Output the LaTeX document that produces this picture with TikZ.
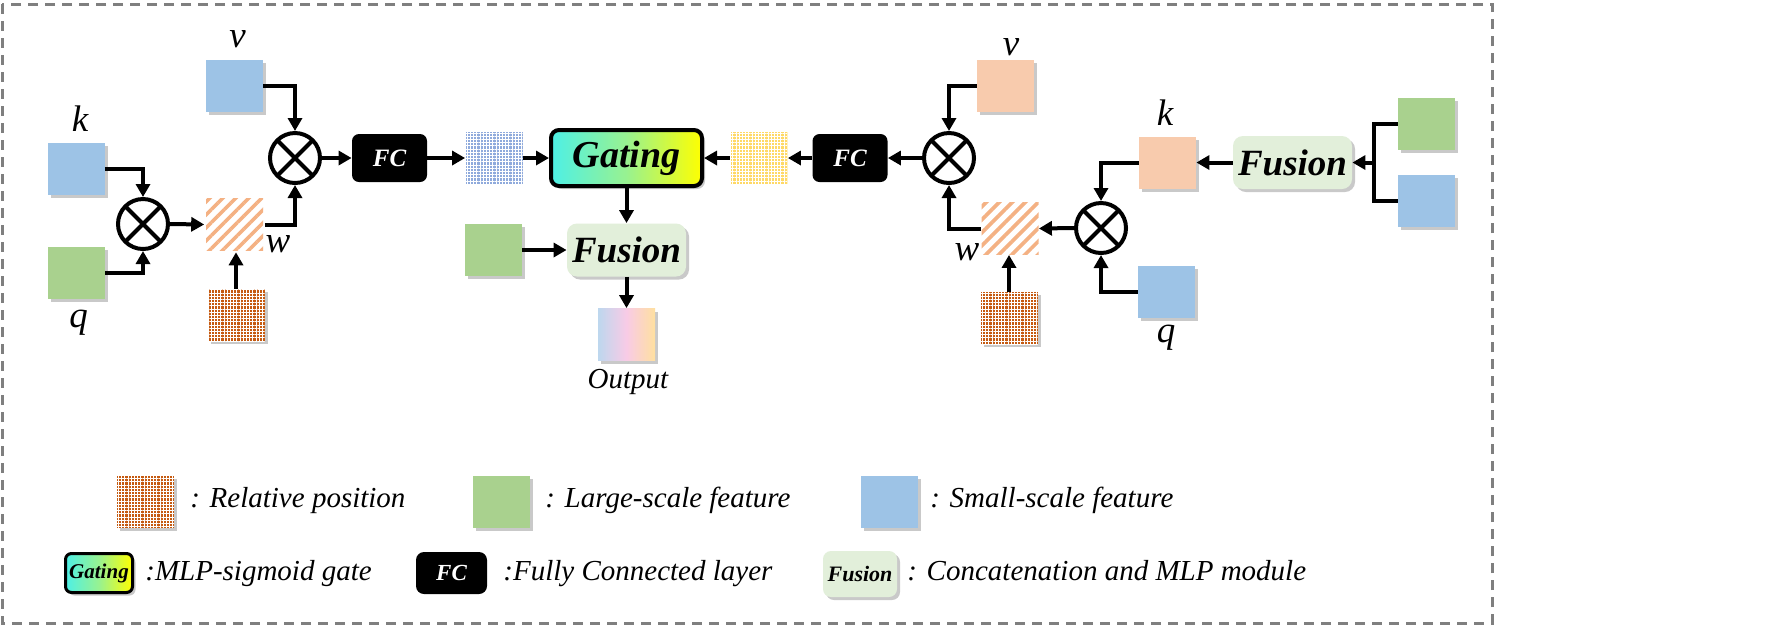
\documentclass[tikz,border=0pt]{standalone}
\usepackage{fontspec}
\setmainfont{Liberation Serif}
\usetikzlibrary{arrows.meta,shadows,patterns.meta,calc}
\definecolor{fblue}{HTML}{9DC3E6}
\definecolor{fgreen}{HTML}{A9D18E}
\definecolor{fpeach}{HTML}{F8CBAD}
\definecolor{fusfill}{HTML}{E2EFDA}
\definecolor{hatchor}{HTML}{F4B183}
\definecolor{relor}{HTML}{C55A11}
\definecolor{dotblue}{HTML}{8FAADC}
\definecolor{dotyel}{HTML}{FFD966}
\definecolor{gcyan}{HTML}{4DF0E6}
\definecolor{ggreen}{HTML}{98F290}
\definecolor{gyel}{HTML}{FFFF00}
\definecolor{oblue}{HTML}{BDD7EE}
\definecolor{opink}{HTML}{F8CBE6}
\definecolor{opeach}{HTML}{FFE0A0}
\definecolor{bordergray}{HTML}{7F7F7F}
\begin{document}
\begin{tikzpicture}[x=0.5pt,y=-0.5pt,
  shad/.style={drop shadow={shadow xshift=1.5pt,shadow yshift=-1.5pt,opacity=0.35,fill=black!60}},
  sq/.style={rectangle,inner sep=0pt,minimum width=28.5pt,minimum height=26pt},
  feat/.style={sq,shad},
  bluefeat/.style={feat,fill=fblue},
  greenfeat/.style={feat,fill=fgreen},
  peachfeat/.style={feat,fill=fpeach},
  hatchbox/.style={sq,pattern={Lines[angle=45,distance=4.6pt,line width=1.8pt]},pattern color=hatchor},
  relbox/.style={feat,preaction={fill=relor},pattern={Hatch[angle=0,distance=1.6pt,line width=0.5pt]},pattern color=white},
  dotbox/.style={sq,preaction={fill=#1},pattern={Hatch[angle=0,distance=1.6pt,line width=0.5pt]},pattern color=white},
  otimes/.style={circle,draw,line width=2pt,minimum size=25pt,inner sep=0pt,
    path picture={\draw[line width=2pt] (path picture bounding box.north west) -- (path picture bounding box.south east)
      (path picture bounding box.north east) -- (path picture bounding box.south west);}},
  fcbox/.style={rectangle,rounded corners=3.5pt,fill=black,text=white,inner sep=0pt,
    minimum width=37.5pt,minimum height=24pt,font=\fontsize{12.5}{12.5}\selectfont\bfseries\itshape},
  gatebox/.style={rectangle,rounded corners=4pt,draw=black,line width=2pt,inner sep=0pt,
    minimum width=75.5pt,minimum height=28pt,font=\fontsize{19}{19}\selectfont\bfseries\itshape,
    shad,left color=gcyan,right color=gyel,middle color=ggreen},
  fusbox/.style={rectangle,rounded corners=5pt,fill=fusfill,inner sep=0pt,
    minimum width=59.5pt,minimum height=26.5pt,font=\fontsize{18.5}{18.5}\selectfont\bfseries\itshape,shad},
  outbox/.style={feat,left color=oblue,right color=opeach,middle color=opink},
  lab/.style={inner sep=0pt,anchor=base,font=\fontsize{18.5}{18.5}\selectfont\itshape},
  legtext/.style={inner sep=0pt,anchor=base west,font=\fontsize{14.5}{14.5}\selectfont\itshape},
  arr/.style={line width=2pt,-{Triangle[length=6.5pt,width=7pt]}},
  conn/.style={line width=2pt}
]
\fill[white] (0,0) rectangle (1792,629);
\useasboundingbox (0,0) rectangle (1792,629);
\draw[bordergray,line width=1.5pt,dash pattern=on 5pt off 3.5pt] (2,4) rectangle (1492,623);

% ---------- left branch ----------
\node[bluefeat] (kL) at (76,169) {};
\node[greenfeat] (qL) at (76.5,273) {};
\node[bluefeat] (vL) at (234.5,86) {};
\node[otimes] (o1) at (143,224) {};
\node[hatchbox] (wL) at (234.5,224.5) {};
\node[relbox] (rpL) at (236,315) {};
\node[otimes] (o2) at (295,158) {};
\node[fcbox] (fc1) at (389.5,158) {FC};
\node[dotbox=dotblue] (hb) at (494,158) {};
\node[gatebox] (gate) at (626.5,158) {Gating};
\node[greenfeat] (gL) at (493.5,250) {};
\node[fusbox] (fus) at (626.5,250) {Fusion};
\node[outbox] (out) at (626.5,334.5) {};
\node[lab] (labk1) at (80,131) {k};
\node[lab] (labq1) at (78.5,327) {q};
\node[lab] (labv1) at (237.5,47) {v};
\node[lab] (labw1) at (278,252) {w};
\node[inner sep=0pt,anchor=base,font=\fontsize{14.5}{14.5}\selectfont\itshape] (labout) at (628,388) {Output};

% ---------- right branch ----------
\node[dotbox=dotyel] (hy) at (759,158) {};
\node[fcbox] (fc2) at (850,158) {FC};
\node[otimes] (o3) at (949,158) {};
\node[peachfeat] (vR) at (1005.5,85.5) {};
\node[hatchbox] (wR) at (1010,228.5) {};
\node[relbox] (rpR) at (1009,318) {};
\node[otimes] (o4) at (1101,228) {};
\node[peachfeat] (kR) at (1167.5,162.5) {};
\node[bluefeat] (qR) at (1166.5,292) {};
\node[fusbox] (fusR) at (1292.5,162.5) {Fusion};
\node[greenfeat] (gR) at (1426.5,123.5) {};
\node[bluefeat] (bR) at (1426.5,201) {};
\coordinate (j) at (1374,162.5);
\node[lab] (labv2) at (1011,55) {v};
\node[lab] (labk2) at (1165,125) {k};
\node[lab] (labw2) at (967,260) {w};
\node[lab] (labq2) at (1166,342) {q};

% ---------- connectors left ----------
\draw[arr] (kL.east) -| (o1.north);
\draw[arr] (qL.east) -| (o1.south);
\draw[arr] (o1.east) -- (wL.west);
\draw[arr] (rpL.north) -- (rpL.north |- wL.south);
\draw[arr] (wL.east) -| (o2.south);
\draw[arr] (vL.east) -| (o2.north);
\draw[arr] (o2.east) -- (fc1.west);
\draw[arr] (fc1.east) -- (hb.west);
\draw[arr] (hb.east) -- (gate.west);
\draw[arr] (gate.south) -- (fus.north);
\draw[arr] (gL.east) -- (fus.west);
\draw[arr] (fus.south) -- (out.north);

% ---------- connectors right ----------
\draw[arr] (hy.west) -- (gate.east);
\draw[arr] (fc2.west) -- (hy.east);
\draw[arr] (o3.west) -- (fc2.east);
\draw[arr] (vR.west) -| (o3.north);
\draw[arr] (wR.west) -| (o3.south);
\draw[arr] (o4.west) -- (wR.east);
\draw[arr] (rpR.north) -- (rpR.north |- wR.south);
\draw[arr] (kR.west) -| (o4.north);
\draw[arr] (qR.west) -| (o4.south);
\draw[arr] (fusR.west) -- (kR.east);
\draw[conn] (gR.west) -| (j) |- (bR.west);
\draw[arr] (j) -- (fusR.east);

% ---------- legend ----------
\node[relbox] (lrel) at (145.5,501.5) {};
\node[legtext] (trel) at (190,507) {: Relative position};
\node[greenfeat] (lgreen) at (501.5,501.5) {};
\node[legtext] (tgreen) at (545,507) {: Large-scale feature};
\node[bluefeat] (lblue) at (889,501.5) {};
\node[legtext] (tblue) at (930,507) {: Small-scale feature};
\node[gatebox,line width=1.5pt,rounded corners=3pt,minimum width=33.5pt,minimum height=19.5pt,
  font=\fontsize{10.5}{10.5}\selectfont\bfseries\itshape] (lgate) at (99,573) {Gating};
\node[legtext] (tgate) at (145,580) {:MLP-sigmoid gate};
\node[fcbox,minimum width=35.5pt,minimum height=21pt,rounded corners=4pt,
  font=\fontsize{11.5}{11.5}\selectfont\bfseries\itshape] (lfc) at (451.5,573) {FC};
\node[legtext] (tfc) at (503,580) {:Fully Connected layer};
\node[fusbox,minimum width=37pt,minimum height=23pt,rounded corners=4pt,
  font=\fontsize{11}{11}\selectfont\bfseries\itshape] (lfus) at (860,574) {Fusion};
\node[legtext] (tfus) at (907,580) {: Concatenation and MLP module};
\end{tikzpicture}
\end{document}
